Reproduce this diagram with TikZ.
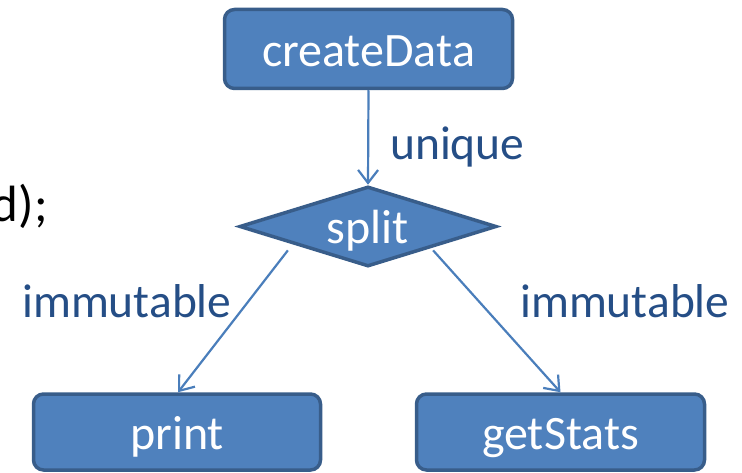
\documentclass[tikz,border=0pt]{standalone}
\usepackage{fontspec}
\setmainfont{Carlito}
\usetikzlibrary{shapes.geometric,arrows.meta}
\definecolor{boxfill}{HTML}{4F81BD}
\definecolor{boxdraw}{HTML}{385D8A}
\definecolor{arrowcol}{HTML}{4A7EBB}
\definecolor{labelcol}{HTML}{254E86}
\tikzset{
  base/.style={fill=boxfill, draw=boxdraw, line width=3.5pt, text=white,
    font=\fontsize{48}{52}\selectfont, inner sep=0pt, text height=35pt, text depth=0pt},
  procbox/.style={base, rectangle, rounded corners=10pt},
  decbox/.style={base, diamond, aspect=3.13, minimum width=257pt, minimum height=80pt},
  conn/.style={draw=arrowcol, line width=2.2pt, -{Straight Barb[length=13pt,width=20pt,line width=2.2pt]}},
  lbl/.style={text=labelcol, font=\fontsize{47.5}{52}\selectfont, inner sep=0pt, anchor=base west},
}
\begin{document}
\begin{tikzpicture}[x=1pt,y=1pt]
\useasboundingbox (0,0) rectangle (742,472);
\node[procbox, minimum width=288pt, minimum height=79pt] (create) at (368.5,423) {createData};
\node[decbox] (split) at (368,245.5) {split};
\node[procbox, minimum width=287pt, minimum height=76pt] (print) at (177,40) {print};
\node[procbox, minimum width=288pt, minimum height=76pt] (stats) at (560.5,40) {getStats};
\coordinate (sl) at ([shift={(-15,-3)}]split.south west);
\coordinate (sr) at ([shift={(0,-3)}]split.south east);
\draw[conn] (create.south) -- (split.north);
\draw[conn] (sl) -- ([xshift=1pt]print.north);
\draw[conn] (sr) -- (stats.north);
\node[lbl] (lu) at (390,312) {unique};
\node[lbl] (ll) at (22,155) {immutable};
\node[lbl] (lr) at (520,155) {immutable};
\node[inner sep=0pt, anchor=base east, font=\fontsize{51}{55}\selectfont] (code) at (48,250) {d);};
\end{tikzpicture}
\end{document}
